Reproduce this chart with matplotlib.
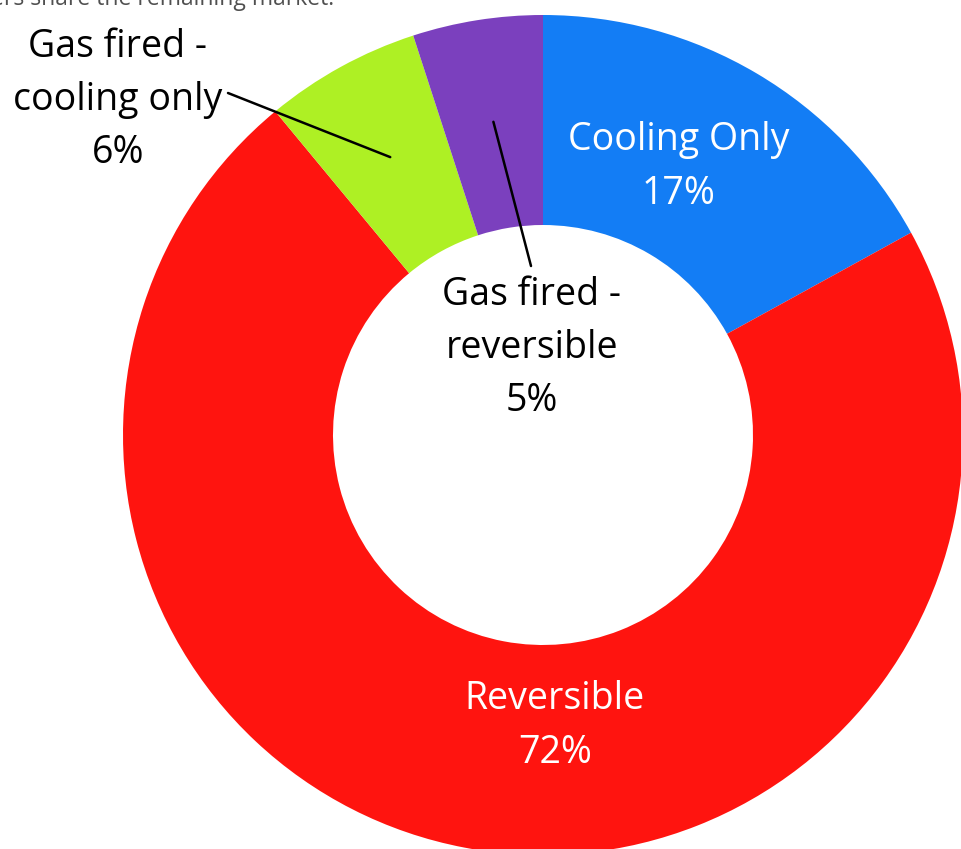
import matplotlib.pyplot as plt
import numpy as np

# data of the donut (clockwise from 12 o'clock)
categories = ["Cooling Only", "Reversible", "Gas fired -\ncooling only", "Gas fired -\nreversible"]
shares = [17, 72, 6, 5]
colors = ["#137DF5", "#FF140F", "#AEF024", "#7B40BE"]

plt.rcParams['font.family'] = ['Open Sans', 'DejaVu Sans']

W, H = 962, 849
fig = plt.figure(figsize=(W / 100, H / 100), dpi=100)
ax = fig.add_axes([0, 0, 1, 1])

cx, cy = 543, H - 435  # centre of the ring
R = 420
wedges, _ = ax.pie(shares, colors=colors, startangle=90, counterclock=False,
                   radius=R, center=(cx, cy), frame=True,
                   wedgeprops=dict(width=R * 0.5, linewidth=0))
ax.set_xlim(0, W)
ax.set_ylim(0, H)
ax.set_aspect('equal')
ax.axis('off')

def mid_point(w, frac):
    a = np.deg2rad((w.theta1 + w.theta2) / 2)
    return cx + frac * R * np.cos(a), cy + frac * R * np.sin(a)

fs = 27
lsp = 1.53
# labels inside the ring, white
ax.text(679, H - 167, f"{categories[0]}\n{shares[0]}%", color="white", fontsize=fs,
        ha="center", va="center", linespacing=lsp)
ax.text(555, H - 726, f"{categories[1]}\n{shares[1]}%", color="white", fontsize=fs,
        ha="center", va="center", linespacing=lsp)

# outside labels with leader lines
ax.text(118, H - 100, f"{categories[2]}\n{shares[2]}%", color="black", fontsize=fs,
        ha="center", va="center", linespacing=lsp)
ax.text(532, H - 348, f"{categories[3]}\n{shares[3]}%", color="black", fontsize=fs,
        ha="center", va="center", linespacing=lsp)

ax.annotate("", xy=mid_point(wedges[2], 0.755), xytext=(228, H - 93),
            arrowprops=dict(arrowstyle="-", color="black", lw=1.8, shrinkA=0, shrinkB=0))
ax.annotate("", xy=mid_point(wedges[3], 0.755), xytext=(531, H - 266),
            arrowprops=dict(arrowstyle="-", color="black", lw=1.8, shrinkA=0, shrinkB=0))

# cut-off sentence from the page above the chart
ax.text(334, H - 5, "others share the remaining market.", color="#505050", fontsize=16.5,
        ha="right", va="baseline", clip_on=False)

fig.savefig("out.png", dpi=100)
